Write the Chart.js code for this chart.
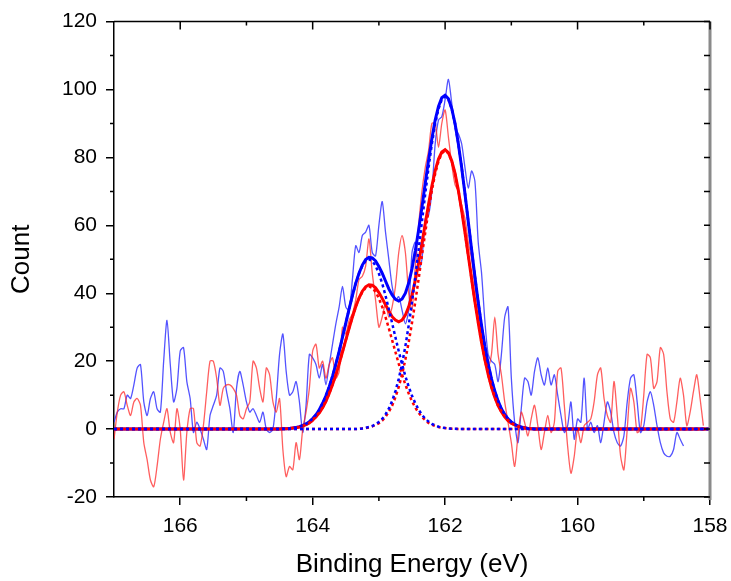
<!DOCTYPE html>
<html>
<head>
<meta charset="utf-8">
<script src="https://cdn.jsdelivr.net/npm/chart.js@4"></script>
<style>
  body { margin: 0; background: #fff; }
  canvas { display: block; }
</style>
</head>
<body>
<canvas id="chart" width="731" height="581"></canvas>
<script>
// binding energy grid of the measured spectra (eV)
var energy = [
  167.00, 166.95, 166.90, 166.85, 166.80, 166.75, 166.70, 166.65, 166.60, 166.55,
  166.50, 166.45, 166.40, 166.35, 166.30, 166.25, 166.20, 166.15, 166.10, 166.05,
  166.00, 165.95, 165.90, 165.85, 165.80, 165.75, 165.70, 165.65, 165.60, 165.55,
  165.50, 165.45, 165.40, 165.35, 165.30, 165.25, 165.20, 165.15, 165.10, 165.05,
  165.00, 164.95, 164.90, 164.85, 164.80, 164.75, 164.70, 164.65, 164.60, 164.55,
  164.50, 164.45, 164.40, 164.35, 164.30, 164.25, 164.20, 164.15, 164.10, 164.05,
  164.00, 163.95, 163.90, 163.85, 163.80, 163.75, 163.70, 163.65, 163.60, 163.55,
  163.50, 163.45, 163.40, 163.35, 163.30, 163.25, 163.20, 163.15, 163.10, 163.05,
  163.00, 162.95, 162.90, 162.85, 162.80, 162.75, 162.70, 162.65, 162.60, 162.55,
  162.50, 162.45, 162.40, 162.35, 162.30, 162.25, 162.20, 162.15, 162.10, 162.05,
  162.00, 161.95, 161.90, 161.85, 161.80, 161.75, 161.70, 161.65, 161.60, 161.55,
  161.50, 161.45, 161.40, 161.35, 161.30, 161.25, 161.20, 161.15, 161.10, 161.05,
  161.00, 160.95, 160.90, 160.85, 160.80, 160.75, 160.70, 160.65, 160.60, 160.55,
  160.50, 160.45, 160.40, 160.35, 160.30, 160.25, 160.20, 160.15, 160.10, 160.05,
  160.00, 159.95, 159.90, 159.85, 159.80, 159.75, 159.70, 159.65, 159.60, 159.55,
  159.50, 159.45, 159.40, 159.35, 159.30, 159.25, 159.20, 159.15, 159.10, 159.05,
  159.00, 158.95, 158.90, 158.85, 158.80, 158.75, 158.70, 158.65, 158.60, 158.55,
  158.50, 158.45, 158.40, 158.35, 158.30, 158.25, 158.20, 158.15, 158.10
];

// measured counts (blue sample stops at 158.40 eV)
var blueData = [
  2, 5, 6, 6, 10, 9, 13, 18, 19, 8,
  4, 9, 11, 6, 5, 20, 32, 19, 8, 12,
  23, 24, 14, 9, -1, 2, 0, -3, -6, 4,
  7, 10, 18, 17, 11, 6, -1, 12, 17, 13,
  8, 5, 6, 4, 2, 5, 0, -1, 0, 9,
  22, 28, 17, 10, 11, 14, 8, -1, 7, 22,
  21, 19, 15, 19, 13, 19, 25, 31, 36, 42,
  36, 35, 44, 54, 52, 57, 58, 60, 52, 51,
  60, 67, 58, 50, 42, 38, 39, 35, 31, 35,
  52, 55, 47, 50, 62, 63, 70, 84, 91, 92,
  97, 103, 96, 89, 87, 84, 77, 71, 76, 73,
  55, 46, 32, 22, 20, 19, 14, 22, 33, 36,
  15, 2, -4, 6, 15, 14, 10, 17, 21, 16,
  13, 18, 13, 16, 10, 4, -1, 1, 8, -3,
  3, 2, 15, 0, 2, -1, 1, -4, 2, 8,
  5, -1, -4, -5, -2, 8, 15, 16, 8, -1,
  1, 8, 11, 7, 1, -4, -7, -8, -8, -6,
  -1, -3, -5
];

var redData = [
  -3, 5, 10, 11, 7, 4, 8, 9, 7, -4,
  -9, -15, -17, -11, -3, 2, 6, -1, -4, 6,
  0, -15, -1, 6, 6, -4, -5, 1, 11, 20,
  20, 15, 7, 12, 13, 13, 12, 10, 4, 3,
  6, 8, 20, 18, 12, 8, 18, 16, 8, 5,
  9, -6, -14, -11, -12, -4, -9, 0, 5, 12,
  23, 25, 18, 20, 15, 19, 21, 15, 17, 30,
  28, 32, 34, 38, 44, 45, 48, 56, 46, 38,
  30, 33, 37, 33, 36, 42, 52, 57, 52, 40,
  35, 48, 60, 70, 77, 82, 90, 90, 83, 90,
  94, 86, 78, 72, 70, 66, 62, 55, 50, 42,
  35, 28, 22, 18, 22, 33, 22, 16, 8, 2,
  -4, -11, -2, 5, 2, -2, 3, 7, 1, -6,
  -1, 4, -1, 2, 17, 18, 7, -5, -13, -8,
  0, -4, 1, 2, 3, 8, 16, 18, 9, 4,
  2, 14, 4, -8, -12, 0, 12, 8, -1, 0,
  10, 22, 21, 12, 14, 24, 22, 11, 3, 2,
  8, 15, 10, 1, 5, 11, 16, 9, 1
];

// energy grid of the fitted curves
var fitEnergy = [
  167.00,
  164.50, 164.45, 164.40, 164.35, 164.30, 164.25, 164.20, 164.15, 164.10, 164.05,
  164.00, 163.95, 163.90, 163.85, 163.80, 163.75, 163.70, 163.65, 163.60, 163.55,
  163.50, 163.45, 163.40, 163.35, 163.30, 163.25, 163.20, 163.15, 163.10, 163.05,
  163.00, 162.95, 162.90, 162.85, 162.80, 162.75, 162.70, 162.65, 162.60, 162.55,
  162.50, 162.45, 162.40, 162.35, 162.30, 162.25, 162.20, 162.15, 162.10, 162.05,
  162.00, 161.95, 161.90, 161.85, 161.80, 161.75, 161.70, 161.65, 161.60, 161.55,
  161.50, 161.45, 161.40, 161.35, 161.30, 161.25, 161.20, 161.15, 161.10, 161.05,
  161.00, 160.95, 160.90, 160.85, 160.80, 160.75, 160.70, 160.65, 160.60, 160.55,
  160.50,
  158.00
];

var blueFit = [
  0,
  0, 0.1, 0.1, 0.2, 0.3, 0.5, 0.7, 1.1, 1.5, 2.2,
  3.1, 4.2, 5.7, 7.6, 9.8, 12.5, 15.6, 19.1, 22.9, 27.0,
  31.2, 35.3, 39.3, 42.9, 45.9, 48.3, 49.9, 50.6, 50.4, 49.5,
  47.9, 45.9, 43.6, 41.3, 39.5, 38.2, 37.7, 38.3, 40.0, 43.0,
  47.2, 52.5, 58.6, 65.3, 72.4, 79.2, 85.5, 91.0, 95.0, 97.6,
  98.3, 97.3, 94.4, 90.0, 84.0, 77.0, 69.3, 61.1, 52.9, 44.9,
  37.4, 30.5, 24.4, 19.2, 14.8, 11.2, 8.3, 6.0, 4.3, 3.0,
  2.1, 1.4, 0.9, 0.6, 0.4, 0.2, 0.1, 0, 0, 0,
  0,
  0
];

var bluePeak1 = [
  0,
  0, 0, 0, 0, 0, 0, 0, 0, 0, 0,
  0, 0, 0, 0, 0, 0, 0, 0, 0, 0,
  0, 0, 0, 0, 0.1, 0.2, 0.4, 0.6, 0.9, 1.4,
  2.1, 3.0, 4.3, 6.0, 8.3, 11.2, 14.8, 19.2, 24.4, 30.5,
  37.4, 44.9, 52.9, 61.1, 69.3, 77.0, 84.0, 89.9, 94.3, 97.1,
  98, 97.1, 94.3, 89.9, 84.0, 77.0, 69.3, 61.1, 52.9, 44.9,
  37.4, 30.5, 24.4, 19.2, 14.8, 11.2, 8.3, 6.0, 4.3, 3.0,
  2.1, 1.4, 0.9, 0.6, 0.4, 0.2, 0.1, 0, 0, 0,
  0,
  0
];

var bluePeak2 = [
  0,
  0, 0.1, 0.1, 0.2, 0.3, 0.5, 0.7, 1.1, 1.5, 2.2,
  3.1, 4.2, 5.7, 7.6, 9.8, 12.5, 15.6, 19.1, 22.9, 27.0,
  31.2, 35.3, 39.3, 42.9, 45.8, 48.1, 49.5, 50, 49.5, 48.1,
  45.8, 42.9, 39.3, 35.3, 31.2, 27.0, 22.9, 19.1, 15.6, 12.5,
  9.8, 7.6, 5.7, 4.2, 3.1, 2.2, 1.5, 1.1, 0.7, 0.5,
  0.3, 0.2, 0.1, 0.1, 0, 0, 0, 0, 0, 0,
  0, 0, 0, 0, 0, 0, 0, 0, 0, 0,
  0, 0, 0, 0, 0, 0, 0, 0, 0, 0,
  0,
  0
];

var redFit = [
  0,
  0, 0.1, 0.1, 0.2, 0.3, 0.4, 0.6, 0.9, 1.3, 1.8,
  2.6, 3.6, 4.8, 6.3, 8.2, 10.5, 13.1, 16.0, 19.2, 22.7,
  26.2, 29.7, 33.0, 36.0, 38.6, 40.6, 41.9, 42.5, 42.4, 41.6,
  40.2, 38.5, 36.6, 34.8, 33.1, 32.1, 31.6, 32.1, 33.6, 36.0,
  39.5, 43.8, 49.0, 54.7, 60.5, 66.2, 71.6, 76.1, 79.5, 81.6,
  82.3, 81.4, 79.0, 75.3, 70.3, 64.4, 57.9, 51.1, 44.2, 37.5,
  31.3, 25.5, 20.5, 16.1, 12.4, 9.4, 6.9, 5.1, 3.6, 2.5,
  1.7, 1.2, 0.8, 0.5, 0.3, 0.2, 0.1, 0, 0, 0,
  0,
  0
];

var redPeak1 = [
  0,
  0, 0, 0, 0, 0, 0, 0, 0, 0, 0,
  0, 0, 0, 0, 0, 0, 0, 0, 0, 0,
  0, 0, 0, 0, 0.1, 0.2, 0.3, 0.5, 0.8, 1.2,
  1.7, 2.5, 3.6, 5.1, 6.9, 9.4, 12.4, 16.1, 20.5, 25.5,
  31.3, 37.5, 44.2, 51.1, 57.9, 64.4, 70.3, 75.2, 78.9, 81.2,
  82, 81.2, 78.9, 75.2, 70.3, 64.4, 57.9, 51.1, 44.2, 37.5,
  31.3, 25.5, 20.5, 16.1, 12.4, 9.4, 6.9, 5.1, 3.6, 2.5,
  1.7, 1.2, 0.8, 0.5, 0.3, 0.2, 0.1, 0, 0, 0,
  0,
  0
];

var redPeak2 = [
  0,
  0, 0.1, 0.1, 0.2, 0.3, 0.4, 0.6, 0.9, 1.3, 1.8,
  2.6, 3.6, 4.8, 6.3, 8.2, 10.5, 13.1, 16.0, 19.2, 22.7,
  26.2, 29.7, 33.0, 36.0, 38.5, 40.4, 41.6, 42, 41.6, 40.4,
  38.5, 36.0, 33.0, 29.7, 26.2, 22.7, 19.2, 16.0, 13.1, 10.5,
  8.2, 6.3, 4.8, 3.6, 2.6, 1.8, 1.3, 0.9, 0.6, 0.4,
  0.3, 0.2, 0.1, 0.1, 0, 0, 0, 0, 0, 0,
  0, 0, 0, 0, 0, 0, 0, 0, 0, 0,
  0, 0, 0, 0, 0, 0, 0, 0, 0, 0,
  0,
  0
];

var xTicks = [158, 160, 162, 164, 166];
var xMinorTicks = [159, 161, 163, 165];
var yTicks = [-20, 0, 20, 40, 60, 80, 100, 120];
var yMinorTicks = [-10, 10, 30, 50, 70, 90, 110];

var FONT = '"Liberation Sans", Arial, Helvetica, sans-serif';

function pts(xs, ys){
    return ys.map(function(v, i){ return {x: xs[i], y: v}; });
}

function noise(label, xs, ys, color, order){
    return {label: label, data: pts(xs, ys), borderColor: color, borderWidth: 1.3,
            tension: 0.25, pointRadius: 0, fill: false, order: order};
}

function fitLine(label, ys, color, order){
    return {label: label, data: pts(fitEnergy, ys), borderColor: color, borderWidth: 3,
            pointRadius: 0, fill: false, order: order};
}

function peakLine(label, ys, color, order){
    return {label: label, data: pts(fitEnergy, ys), borderColor: color, borderWidth: 2.5,
            borderDash: [3, 3], pointRadius: 0, fill: false, order: order};
}

// box frame: top + right axes and the minor ticks
var frame = {
    id: 'frame',
    afterDraw: function(chart){
        var c = chart.ctx;
        var a = chart.chartArea;
        var sx = chart.scales.x, sy = chart.scales.y;
        c.save();
        c.lineCap = 'butt';
        // right axis (grey, heavier)
        c.strokeStyle = '#8a8a8a';
        c.lineWidth = 3;
        c.beginPath();
        c.moveTo(a.right, a.top);
        c.lineTo(a.right, a.bottom + 3);
        c.stroke();
        // top axis
        c.strokeStyle = '#000';
        c.lineWidth = 1.5;
        c.beginPath();
        c.moveTo(a.left, a.top);
        c.lineTo(a.right, a.top);
        c.stroke();
        c.beginPath();
        // bottom minor ticks
        xMinorTicks.forEach(function(v){
            var px = sx.getPixelForValue(v);
            c.moveTo(px, a.bottom);
            c.lineTo(px, a.bottom + 4);
        });
        // left minor ticks
        yMinorTicks.forEach(function(v){
            var py = sy.getPixelForValue(v);
            c.moveTo(a.left, py);
            c.lineTo(a.left - 4, py);
        });
        // top ticks, inward
        xTicks.forEach(function(v){
            var px = sx.getPixelForValue(v);
            c.moveTo(px, a.top);
            c.lineTo(px, a.top + 8);
        });
        xMinorTicks.forEach(function(v){
            var px = sx.getPixelForValue(v);
            c.moveTo(px, a.top);
            c.lineTo(px, a.top + 4);
        });
        // right ticks, inward
        yTicks.concat(yMinorTicks).forEach(function(v){
            var py = sy.getPixelForValue(v);
            c.moveTo(a.right, py);
            c.lineTo(a.right - 6, py);
        });
        c.stroke();
        c.restore();
    }
};

var ctx = document.getElementById('chart').getContext('2d');
var chart = new Chart(ctx, {
    type: 'line',
    data: {
        datasets: [
            noise('Blue data', energy, blueData, 'rgba(40, 40, 255, 0.8)', 9),
            noise('Red data', energy, redData, 'rgba(255, 40, 40, 0.75)', 8),
            fitLine('Blue fit', blueFit, '#0000ff', 6),
            fitLine('Red fit', redFit, '#ff0000', 5),
            peakLine('Red peak 1', redPeak1, '#ff0000', 4),
            peakLine('Red peak 2', redPeak2, '#ff0000', 3),
            peakLine('Blue peak 1', bluePeak1, '#0000ff', 2),
            peakLine('Blue peak 2', bluePeak2, '#0000ff', 1)
        ]
    },
    options: {
        responsive: false,
        animation: false,
        layout: {padding: {left: 0, right: 21, top: 18, bottom: 0}},
        plugins: {legend: {display: false}, tooltip: {enabled: false}},
        scales: {
            x: {
                type: 'linear', reverse: true, min: 158, max: 167,
                afterBuildTicks: function(s){ s.ticks = xTicks.map(function(v){ return {value: v}; }); },
                afterFit: function(s){ s.height = 84; },
                grid: {drawOnChartArea: false, drawTicks: true, tickLength: 8, color: '#000', lineWidth: 1.5},
                border: {display: true, color: '#000', width: 1.5},
                ticks: {color: '#000', font: {family: FONT, size: 21}, padding: 9, maxRotation: 0},
                title: {display: true, text: 'Binding Energy (eV)', color: '#000',
                        font: {family: FONT, size: 26}, padding: {top: 0, bottom: 1}}
            },
            y: {
                min: -20, max: 120,
                afterBuildTicks: function(s){ s.ticks = yTicks.map(function(v){ return {value: v}; }); },
                afterFit: function(s){ s.width = 114; },
                grid: {drawOnChartArea: false, drawTicks: true, tickLength: 8, color: '#000', lineWidth: 1.5},
                border: {display: true, color: '#000', width: 1.5},
                ticks: {color: '#000', font: {family: FONT, size: 21}, padding: 9},
                title: {display: true, text: 'Count', color: '#000',
                        font: {family: FONT, size: 26}, padding: {top: 6, bottom: 0}}
            }
        }
    },
    plugins: [frame]
});
</script>
</body>
</html>
